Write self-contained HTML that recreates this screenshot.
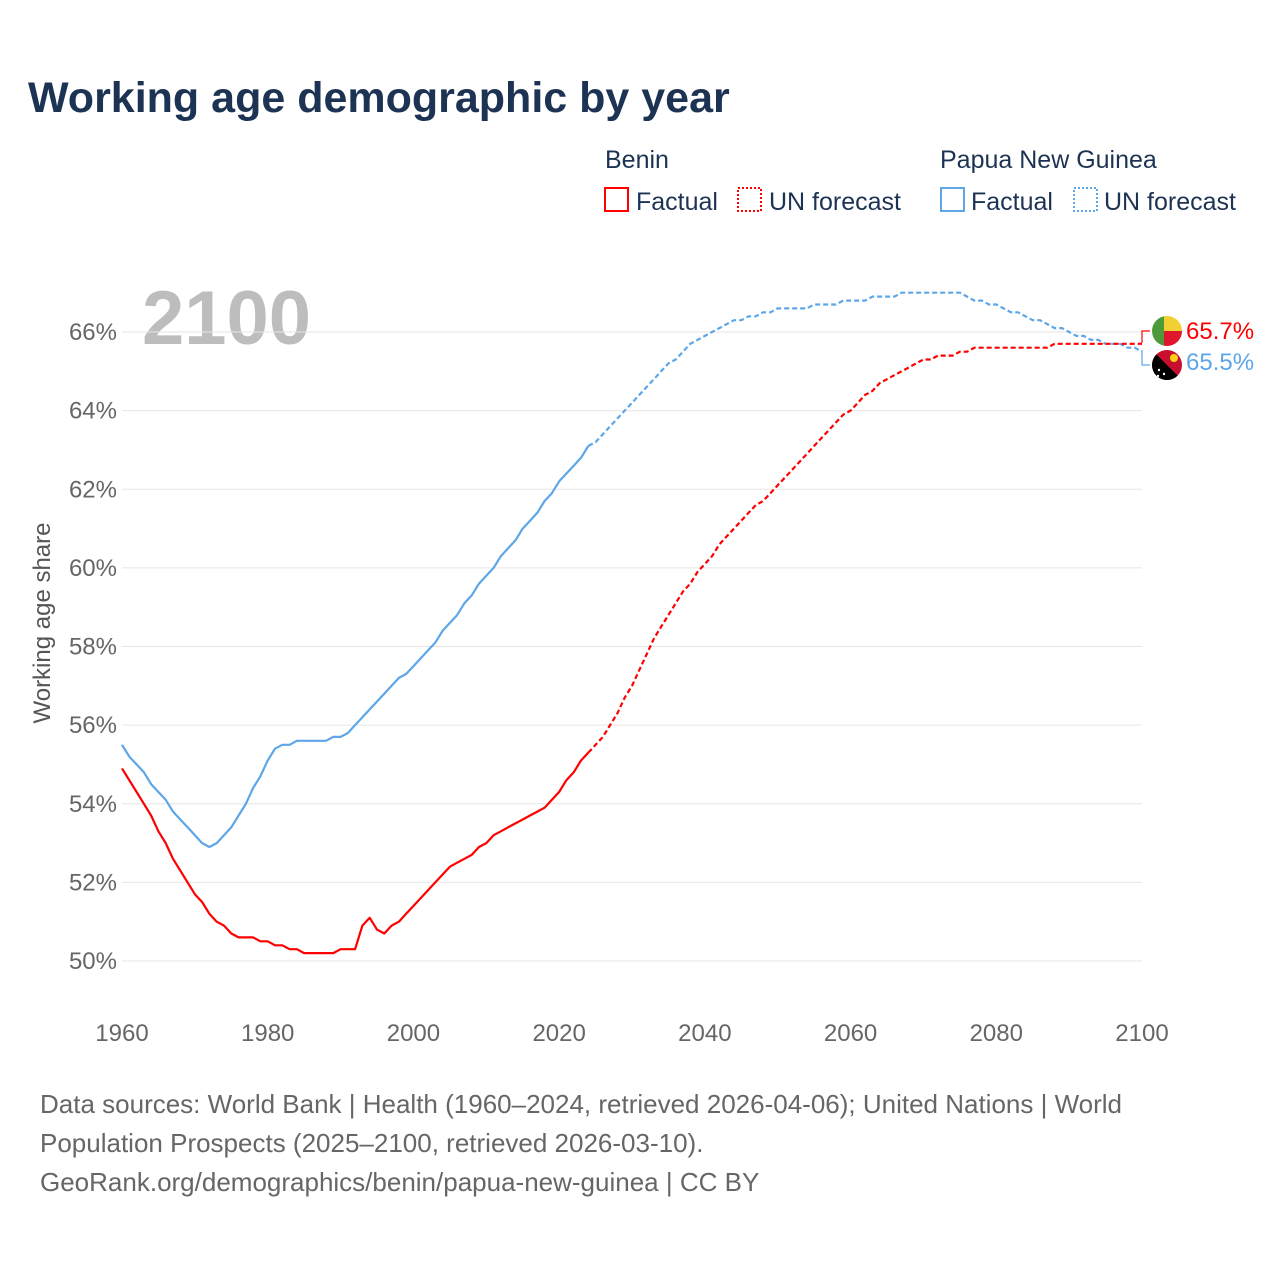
<!DOCTYPE html>
<html><head><meta charset="utf-8"><style>
body{margin:0;width:1280px;height:1280px;background:#fff;font-family:"Liberation Sans",sans-serif;overflow:hidden}
</style></head><body>
<svg width="1280" height="1280" id="chart" font-family="Liberation Sans, sans-serif">
<text x="28" y="112" font-size="43" font-weight="bold" fill="#1d3354">Working age demographic by year</text>
<g font-size="25" fill="#1d3354">
<text x="605" y="168">Benin</text>
<text x="940" y="168">Papua New Guinea</text>
<rect x="605" y="188" width="23" height="23" fill="none" stroke="#ff0000" stroke-width="2"/>
<text x="636" y="210">Factual</text>
<rect x="738" y="188" width="23" height="23" fill="none" stroke="#ff0000" stroke-width="2" stroke-dasharray="2,2"/>
<text x="769" y="210">UN forecast</text>
<rect x="941" y="188" width="23" height="23" fill="none" stroke="#5ea6e8" stroke-width="2"/>
<text x="971" y="210">Factual</text>
<rect x="1074" y="188" width="23" height="23" fill="none" stroke="#5ea6e8" stroke-width="2" stroke-dasharray="2,2"/>
<text x="1104" y="210">UN forecast</text>
</g>
<text x="142" y="344" font-size="76" font-weight="bold" fill="#bdbdbd">2100</text>
<g id="grid"></g><g id="axes"></g><g id="lines"></g>
<text transform="translate(50,623) rotate(-90)" text-anchor="middle" font-size="24" fill="#555">Working age share</text>
<g font-size="26" fill="#666">
<text x="40" y="1113">Data sources: World Bank | Health (1960–2024, retrieved 2026-04-06); United Nations | World</text>
<text x="40" y="1152">Population Prospects (2025–2100, retrieved 2026-03-10).</text>
<text x="40" y="1191">GeoRank.org/demographics/benin/papua-new-guinea | CC BY</text>
</g>
<g>
<path d="M1142,343 L1142,331 L1150,331" fill="none" stroke="#ff0000" stroke-width="1.2"/>
<path d="M1142,350 L1142,365 L1150,365" fill="none" stroke="#5ea6e8" stroke-width="1.2"/>
<g><clipPath id="c1"><circle cx="1167" cy="331" r="15"/></clipPath><g clip-path="url(#c1)"><rect x="1152" y="316" width="12" height="30" fill="#4c9a3a"/><rect x="1164" y="316" width="18" height="15" fill="#f2d034"/><rect x="1164" y="331" width="18" height="15" fill="#e0152e"/></g></g>
<g><clipPath id="c2"><circle cx="1167" cy="365" r="15"/></clipPath><g clip-path="url(#c2)"><rect x="1152" y="350" width="30" height="30" fill="#c8102e"/><polygon points="1152,350 1152,380 1182,380" fill="#000"/><circle cx="1174" cy="358" r="4" fill="#fcd116"/><circle cx="1159" cy="370" r="1.2" fill="#fff"/><circle cx="1164" cy="374" r="1.2" fill="#fff"/><circle cx="1158" cy="376" r="1.2" fill="#fff"/></g></g>
<text x="1186" y="339" font-size="24" fill="#ff0000">65.7%</text>
<text x="1186" y="370" font-size="24" fill="#5ea6e8">65.5%</text>
</g>
</svg>
<script>
const years=[];for(let y=1960;y<=2100;y++)years.push(y);
const beninValues=[54.9,54.6,54.3,54.0,53.7,53.3,53.0,52.6,52.3,52.0,51.7,51.5,51.2,51.0,50.9,50.7,50.6,50.6,50.6,50.5,50.5,50.4,50.4,50.3,50.3,50.2,50.2,50.2,50.2,50.2,50.3,50.3,50.3,50.9,51.1,50.8,50.7,50.9,51.0,51.2,51.4,51.6,51.8,52.0,52.2,52.4,52.5,52.6,52.7,52.9,53.0,53.2,53.3,53.4,53.5,53.6,53.7,53.8,53.9,54.1,54.3,54.6,54.8,55.1,55.3,
55.5,55.7,56.0,56.3,56.7,57.0,57.4,57.8,58.2,58.5,58.8,59.1,59.4,59.6,59.9,60.1,60.3,60.6,60.8,61.0,61.2,61.4,61.6,61.7,61.9,62.1,62.3,62.5,62.7,62.9,63.1,63.3,63.5,63.7,63.9,64.0,64.2,64.4,64.5,64.7,64.8,64.9,65.0,65.1,65.2,65.3,65.3,65.4,65.4,65.4,65.5,65.5,65.6,65.6,65.6,65.6,65.6,65.6,65.6,65.6,65.6,65.6,65.6,65.7,65.7,65.7,65.7,65.7,65.7,65.7,65.7,65.7,65.7,65.7,65.7,65.7];
const pngValues=[55.5,55.2,55.0,54.8,54.5,54.3,54.1,53.8,53.6,53.4,53.2,53.0,52.9,53.0,53.2,53.4,53.7,54.0,54.4,54.7,55.1,55.4,55.5,55.5,55.6,55.6,55.6,55.6,55.6,55.7,55.7,55.8,56.0,56.2,56.4,56.6,56.8,57.0,57.2,57.3,57.5,57.7,57.9,58.1,58.4,58.6,58.8,59.1,59.3,59.6,59.8,60.0,60.3,60.5,60.7,61.0,61.2,61.4,61.7,61.9,62.2,62.4,62.6,62.8,63.1,
63.2,63.4,63.6,63.8,64.0,64.2,64.4,64.6,64.8,65.0,65.2,65.3,65.5,65.7,65.8,65.9,66.0,66.1,66.2,66.3,66.3,66.4,66.4,66.5,66.5,66.6,66.6,66.6,66.6,66.6,66.7,66.7,66.7,66.7,66.8,66.8,66.8,66.8,66.9,66.9,66.9,66.9,67.0,67.0,67.0,67.0,67.0,67.0,67.0,67.0,67.0,66.9,66.8,66.8,66.7,66.7,66.6,66.5,66.5,66.4,66.3,66.3,66.2,66.1,66.1,66.0,65.9,65.9,65.8,65.8,65.7,65.7,65.7,65.6,65.6,65.5];
const yTicks=[50,52,54,56,58,60,62,64,66];
const xTicks=[1960,1980,2000,2020,2040,2060,2080,2100];
const lastFactual=2024;
const NS='http://www.w3.org/2000/svg';
const xs=y=>122+(y-1960)*(1020/140);
const ys=v=>961-(v-50)*(629/16);
function mk(t,a){const e=document.createElementNS(NS,t);for(const k in a)e.setAttribute(k,a[k]);return e;}
const grid=document.getElementById('grid'),axes=document.getElementById('axes'),lines=document.getElementById('lines');
yTicks.forEach(v=>{
 const l=mk('line',{x1:122,x2:1142,y1:ys(v),y2:ys(v),stroke:'#e6e6e6','stroke-width':1});
 
 
 grid.appendChild(l);
 const t=mk('text',{x:117,y:ys(v)+8,'text-anchor':'end','font-size':24,fill:'#666'});
 t.textContent=v+'%';
 
 
 axes.appendChild(t);
});
xTicks.forEach(y=>{
 const t=mk('text',{x:xs(y),y:1041,'text-anchor':'middle','font-size':24,fill:'#666'});
 t.textContent=y;
 
 
 axes.appendChild(t);
});
function draw(vals,color,name){
 const f=[],p=[];
 years.forEach((y,i)=>{const pt=xs(y).toFixed(1)+','+ys(vals[i]).toFixed(1);if(y<=lastFactual)f.push(pt);if(y>=lastFactual)p.push(pt);});
 const a=mk('polyline',{points:f.join(' '),fill:'none',stroke:color,'stroke-width':2.2,'stroke-linejoin':'round'});
 
 
 lines.appendChild(a);
 const b=mk('polyline',{points:p.join(' '),fill:'none',stroke:color,'stroke-width':2.2,'stroke-dasharray':'5,3'});
 
 
 lines.appendChild(b);
}
draw(pngValues,'#5ea6e8','png');
draw(beninValues,'#ff0000','benin');
</script>
</body></html>
